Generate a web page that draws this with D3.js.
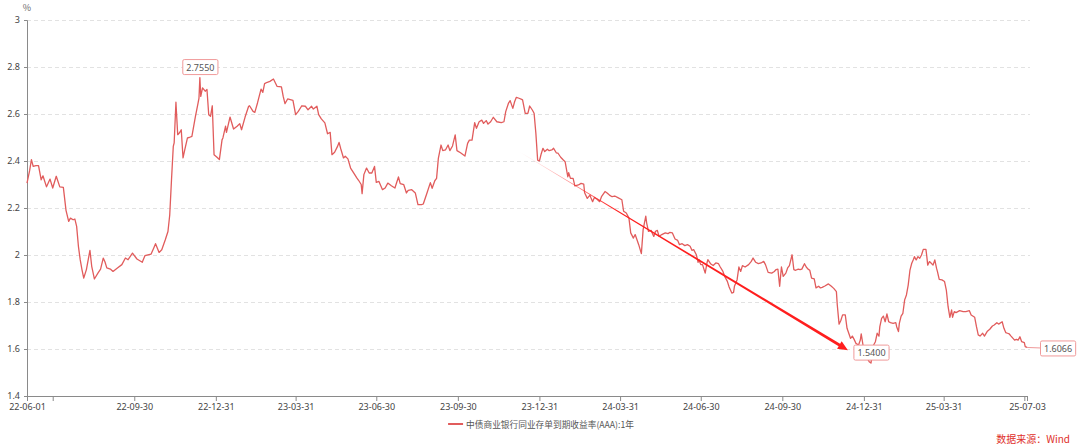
<!DOCTYPE html>
<html><head><meta charset="utf-8">
<script src="https://cdn.jsdelivr.net/npm/d3@7"></script>
<style>
body{margin:0;background:#fff;}
svg{display:block;font-family:"Noto Sans CJK SC","Noto Sans",sans-serif;}
</style>
</head><body>
<svg id="chart" width="1080" height="448"></svg>
<script>
// ---------- data ----------
const startDate = "2022-06-01";
const endDate = "2025-07-03";
// calendar days since startDate
const dayOffsets = [0,3,5,7,10,13,16,18,22,26,29,33,37,41,44,47,49,52,54,56,58,60,62,64,67,71,73,76,80,83,86,88,90,94,97,102,107,111,114,119,124,130,133,140,143,145,149,152,156,159,161,163,165,166,168,170,172,174,176,178,181,183,186,190,193,194,195,196,198,201,203,205,207,209,211,214,217,220,221,224,225,229,233,237,240,242,246,250,251,255,257,260,264,266,268,271,274,278,282,287,289,291,294,297,300,303,306,310,314,317,321,323,327,329,332,336,339,342,344,347,350,352,354,357,359,362,365,369,372,374,377,378,380,383,386,389,392,394,397,401,404,407,411,415,419,421,425,428,430,434,438,441,445,447,451,455,457,460,462,464,467,469,472,475,477,480,483,485,489,494,497,499,502,505,507,510,513,515,518,520,523,526,530,535,538,540,543,545,548,550,552,555,558,559,562,565,567,570,572,574,576,578,580,582,584,587,589,592,594,597,599,602,605,607,610,611,613,616,618,622,625,628,629,632,635,636,638,640,643,646,648,652,654,657,660,663,667,671,673,676,679,681,684,686,690,693,695,698,699,701,704,705,707,709,711,713,716,720,723,725,728,731,734,736,739,742,745,748,750,752,755,757,758,760,762,765,767,768,771,774,777,780,782,785,787,790,792,795,797,798,801,803,805,807,810,814,817,819,822,825,828,831,833,836,840,843,845,847,849,851,853,856,858,860,863,865,867,870,872,874,877,879,881,883,885,888,890,893,895,897,900,904,907,910,913,914,916,918,920,923,925,929,931,933,935,938,940,941,943,944,946,948,950,952,953,955,957,959,961,962,964,966,968,970,972,974,977,980,981,983,984,986,988,990,992,994,996,998,1000,1001,1003,1005,1007,1009,1011,1014,1015,1016,1018,1020,1022,1024,1026,1027,1029,1032,1035,1037,1039,1041,1043,1044,1046,1048,1052,1056,1059,1063,1065,1069,1071,1073,1075,1078,1080,1083,1086,1089,1091,1094,1096,1100,1102,1104,1106,1108,1110,1114,1116,1118,1120,1122,1125,1126,1128];
const yieldValues = [2.306,2.36,2.406,2.377,2.38,2.38,2.32,2.337,2.29,2.323,2.285,2.335,2.29,2.288,2.19,2.143,2.157,2.15,2.153,2.122,2.037,1.98,1.938,1.902,1.938,2.02,1.952,1.898,1.923,1.94,1.987,1.97,1.945,1.94,1.93,1.945,1.959,1.987,1.98,2.008,1.983,1.969,1.997,2.004,2.03,2.048,2.011,2.022,2.065,2.1,2.17,2.32,2.462,2.477,2.65,2.512,2.52,2.533,2.413,2.448,2.498,2.5,2.505,2.59,2.647,2.668,2.755,2.675,2.711,2.697,2.704,2.597,2.59,2.635,2.427,2.417,2.406,2.49,2.498,2.548,2.522,2.587,2.536,2.548,2.559,2.533,2.587,2.633,2.635,2.611,2.607,2.647,2.706,2.692,2.729,2.735,2.739,2.749,2.718,2.715,2.675,2.644,2.664,2.661,2.658,2.597,2.611,2.635,2.633,2.618,2.633,2.621,2.633,2.597,2.579,2.562,2.516,2.522,2.427,2.437,2.46,2.479,2.451,2.413,2.42,2.409,2.37,2.346,2.328,2.318,2.3,2.261,2.342,2.37,2.349,2.349,2.377,2.309,2.313,2.278,2.285,2.306,2.295,2.285,2.332,2.304,2.299,2.264,2.275,2.278,2.264,2.214,2.214,2.217,2.262,2.308,2.284,2.316,2.326,2.411,2.468,2.444,2.447,2.468,2.444,2.464,2.511,2.444,2.435,2.421,2.475,2.489,2.489,2.563,2.539,2.567,2.574,2.56,2.572,2.557,2.567,2.586,2.567,2.563,2.567,2.61,2.645,2.657,2.624,2.652,2.671,2.667,2.662,2.66,2.603,2.603,2.634,2.617,2.603,2.518,2.404,2.4,2.43,2.454,2.44,2.45,2.444,2.447,2.454,2.435,2.433,2.416,2.404,2.397,2.333,2.35,2.326,2.326,2.294,2.298,2.305,2.302,2.265,2.241,2.255,2.245,2.227,2.245,2.237,2.227,2.248,2.27,2.265,2.255,2.248,2.251,2.243,2.235,2.186,2.179,2.157,2.094,2.072,2.087,2.044,2.006,2.108,2.165,2.136,2.101,2.105,2.096,2.079,2.101,2.105,2.079,2.087,2.094,2.091,2.096,2.094,2.068,2.062,2.044,2.048,2.04,2.044,2.037,2.02,2.023,2.001,1.969,1.98,1.959,1.959,1.923,1.966,1.98,1.963,1.955,1.966,1.963,1.949,1.93,1.909,1.888,1.864,1.838,1.841,1.867,1.895,1.949,1.93,1.955,1.949,1.959,1.973,1.987,1.969,1.963,1.966,1.973,1.959,1.926,1.923,1.93,1.938,1.94,1.867,1.949,1.909,1.923,1.945,1.955,2.001,1.938,1.935,1.94,1.938,1.94,1.963,1.949,1.94,1.935,1.902,1.898,1.86,1.867,1.86,1.862,1.868,1.877,1.868,1.858,1.844,1.787,1.706,1.721,1.745,1.745,1.688,1.645,1.655,1.641,1.624,1.617,1.638,1.664,1.617,1.596,1.579,1.56,1.546,1.54,1.565,1.617,1.631,1.667,1.655,1.695,1.73,1.74,1.716,1.749,1.716,1.712,1.709,1.712,1.695,1.674,1.709,1.74,1.752,1.809,1.83,1.872,1.936,1.965,1.982,1.993,1.979,1.993,1.986,2.0,2.024,2.024,1.993,1.957,1.972,1.965,1.957,1.979,1.943,1.929,1.896,1.894,1.887,1.851,1.78,1.735,1.766,1.735,1.759,1.755,1.763,1.759,1.759,1.763,1.745,1.735,1.695,1.66,1.655,1.667,1.655,1.674,1.684,1.698,1.702,1.712,1.706,1.716,1.688,1.67,1.667,1.664,1.655,1.638,1.641,1.638,1.652,1.631,1.627,1.61,1.6066];
const xTickDates = ["2022-06-01","2022-06-30","2022-09-30","2022-12-31","2023-03-31","2023-06-30","2023-09-30","2023-12-31","2024-03-31","2024-06-30","2024-09-30","2024-12-31","2025-03-31","2025-06-30","2025-07-03"];
const xTickLabels = ["22-06-01","","22-09-30","22-12-31","23-03-31","23-06-30","23-09-30","23-12-31","24-03-31","24-06-30","24-09-30","24-12-31","25-03-31","","25-07-03"];
const yTicks = [1.4,1.6,1.8,2.0,2.2,2.4,2.6,2.8,3.0];
const seriesName = "中债商业银行同业存单到期收益率(AAA):1年";
const unitLabel = "%";
const sourceText = "数据来源：Wind";
// trend arrow drawn on the chart (day offset, value)
const trendFrom = {day: 556, value: 2.438};
const trendTo = {day: 926, value: 1.595};

// ---------- drawing ----------
const parse = d3.utcParse("%Y-%m-%d");
const t0 = parse(startDate), t1 = parse(endDate);
const toDate = d => new Date(t0.getTime() + d * 864e5);
const points = dayOffsets.map((d, i) => ({date: toDate(d), value: yieldValues[i]}));

const plotL = 27, plotR = 1027, plotT = 20, plotB = 396;
const x = d3.scaleUtc().domain([t0, t1]).range([plotL, plotR]);
const y = d3.scaleLinear().domain([1.4, 3.0]).range([plotB, plotT]);

const svg = d3.select("#chart");
const lineColor = "#e15c5c";

// grid
svg.append("g").selectAll("line").data(yTicks.filter(v => v > 1.4)).join("line")
  .attr("x1", plotL).attr("x2", plotR + 3)
  .attr("y1", d => y(d)).attr("y2", d => y(d))
  .attr("stroke", "#e2e2e2").attr("stroke-width", 1).attr("stroke-dasharray", "4,3")
  .attr("shape-rendering", "crispEdges");

// y axis
const yAxis = svg.append("g").attr("transform", `translate(${plotL},0)`)
  .call(d3.axisLeft(y).tickValues(yTicks).tickSize(3).tickPadding(4).tickFormat(d3.format("~g")));
// x axis
const xAxis = svg.append("g").attr("transform", `translate(0,${plotB})`)
  .call(d3.axisBottom(x).tickValues(xTickDates.map(parse)).tickSize(5).tickSizeOuter(0).tickPadding(3)
    .tickFormat((d, i) => xTickLabels[i]));
[yAxis, xAxis].forEach(g => {
  g.select(".domain").attr("stroke", "#8a8a8a");
  g.selectAll(".tick line").attr("stroke", "#8a8a8a");
  g.selectAll(".tick text").attr("fill", "#444").style("font-size", "9px")
    .style("font-family", '"Noto Sans","Noto Sans CJK SC",sans-serif');
});

// unit
svg.append("text").attr("x", plotL).attr("y", 11).attr("text-anchor", "middle")
  .attr("fill", "#666").style("font-size", "9px").text(unitLabel);

// series line
svg.append("path").datum(points)
  .attr("fill", "none").attr("stroke", lineColor).attr("stroke-width", 1.3)
  .attr("stroke-linejoin", "round")
  .attr("d", d3.line().x(d => x(d.date)).y(d => y(d.value)));

// trend arrow
const ax0 = x(toDate(trendFrom.day)), ay0 = y(trendFrom.value);
const ax1 = x(toDate(trendTo.day)), ay1 = y(trendTo.value);
const len = Math.hypot(ax1 - ax0, ay1 - ay0);
const ux = (ax1 - ax0) / len, uy = (ay1 - ay0) / len;
const nx = -uy, ny = ux;
const headLen = 10, headHalf = 4.5, w0 = 0.4, w1 = 2.8;
const hx = ax1 - ux * headLen, hy = ay1 - uy * headLen;
const defs = svg.append("defs");
const grad = defs.append("linearGradient").attr("id", "arrowGrad")
  .attr("gradientUnits", "userSpaceOnUse")
  .attr("x1", ax0).attr("y1", ay0).attr("x2", ax1).attr("y2", ay1);
grad.append("stop").attr("offset", 0).attr("stop-color", "#ff1e1e").attr("stop-opacity", 0);
grad.append("stop").attr("offset", 0.3).attr("stop-color", "#ff1e1e").attr("stop-opacity", 1);
grad.append("stop").attr("offset", 1).attr("stop-color", "#ff1e1e").attr("stop-opacity", 1);
svg.append("path")
  .attr("d", `M${ax0 + nx*w0/2},${ay0 + ny*w0/2}L${hx + nx*w1/2},${hy + ny*w1/2}L${hx + nx*headHalf},${hy + ny*headHalf}L${ax1},${ay1}L${hx - nx*headHalf},${hy - ny*headHalf}L${hx - nx*w1/2},${hy - ny*w1/2}L${ax0 - nx*w0/2},${ay0 - ny*w0/2}Z`)
  .attr("fill", "url(#arrowGrad)");

// value label boxes
const fmt = d3.format(".4f");
function labelBox(cx, cy, txt, mode) {
  const g = svg.append("g");
  const t = g.append("text").attr("fill", "#555").style("font-size", "9px")
    .style("font-family", '"Noto Sans",sans-serif').text(txt);
  const w = t.node().getComputedTextLength() + 7, h = 15;
  let bx, by;
  if (mode === "above") { bx = cx - w / 2; by = cy - 3.5 - h; }
  else { bx = cx; by = cy - h / 2; }
  g.insert("rect", "text").attr("x", bx + 0.5).attr("y", by + 0.5).attr("width", w).attr("height", h)
    .attr("rx", 1.5).attr("fill", "#fff").attr("stroke", "#f09a9a").attr("stroke-width", 1);
  t.attr("x", bx + 0.5 + w / 2).attr("y", by + 0.5 + h / 2).attr("text-anchor", "middle")
    .attr("dominant-baseline", "central");
}
const maxP = points.reduce((a, b) => b.value > a.value ? b : a);
const minP = points.reduce((a, b) => b.value < a.value ? b : a);
const lastP = points[points.length - 1];
labelBox(x(maxP.date), y(maxP.value), fmt(maxP.value), "above");
labelBox(x(minP.date), y(minP.value), fmt(minP.value), "above");
const lx = x(lastP.date), ly = y(lastP.value);
svg.append("line").attr("x1", lx).attr("y1", ly).attr("x2", lx + 13).attr("y2", ly + 0.5)
  .attr("stroke", "#f09a9a").attr("stroke-width", 1);
labelBox(lx + 13, ly + 0.5, fmt(lastP.value), "right");

// legend
const lg = svg.append("g");
lg.append("line").attr("x1", 0).attr("x2", 15).attr("y1", 0).attr("y2", 0)
  .attr("stroke", lineColor).attr("stroke-width", 2);
const lt = lg.append("text").attr("x", 18).attr("y", 0).attr("dominant-baseline", "central")
  .attr("fill", "#555").style("font-size", "8.7px").text(seriesName);
const lw = 18 + lt.node().getComputedTextLength();
lg.attr("transform", `translate(${541 - lw / 2},424)`);

// source
svg.append("text").attr("x", 1070).attr("y", 443).attr("text-anchor", "end")
  .attr("fill", "#e0302a").style("font-size", "10px").text(sourceText);
</script>
</body></html>
